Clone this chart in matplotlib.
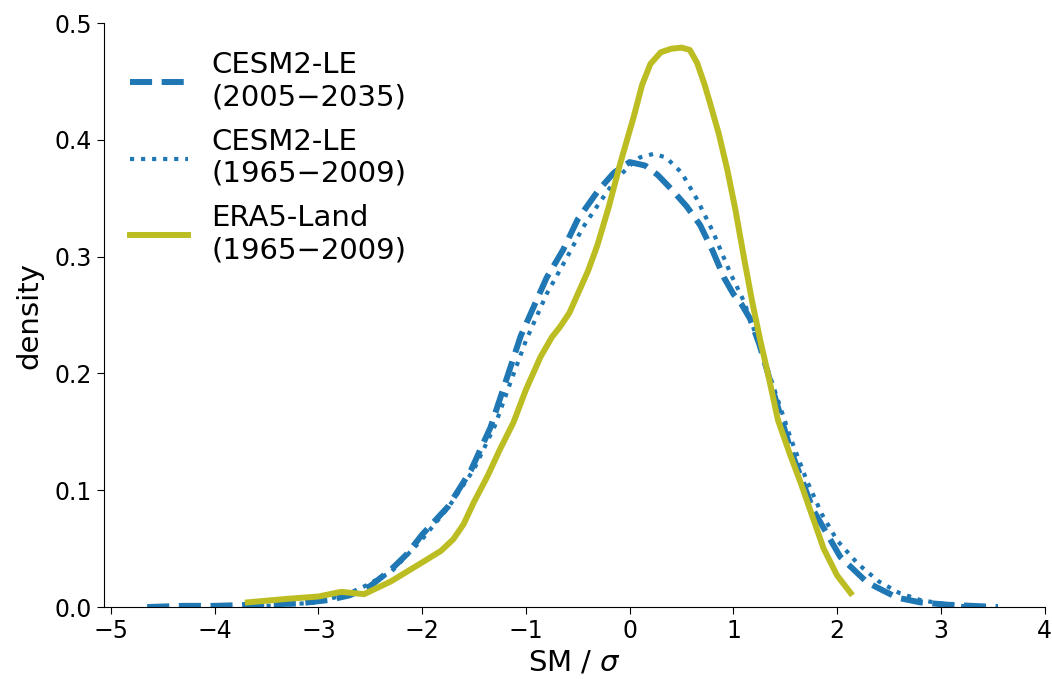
import matplotlib
matplotlib.use("Agg")
import matplotlib.pyplot as plt

# CESM2-LE 2005-2035 (dashed)
x_fut = [-4.65, -4.3, -4.0, -3.6, -3.2, -2.9, -2.7, -2.5, -2.3, -2.15, -2.0,
         -1.75, -1.53, -1.34, -1.18, -1.05, -0.92, -0.8, -0.64, -0.5, -0.3, -0.15,
         0.0, 0.15, 0.27, 0.4, 0.55, 0.68, 0.8, 0.91, 1.0, 1.08, 1.16, 1.25, 1.36,
         1.55, 1.77, 2.03, 2.29, 2.58, 2.8, 3.06, 3.3, 3.55]
y_fut = [0.000, 0.001, 0.001, 0.002, 0.003, 0.006, 0.010, 0.018, 0.032, 0.045, 0.062,
         0.086, 0.117, 0.154, 0.197, 0.232, 0.258, 0.282, 0.306, 0.332, 0.357, 0.372,
         0.381, 0.378, 0.370, 0.358, 0.343, 0.327, 0.305, 0.282, 0.268, 0.259, 0.247, 0.225, 0.192,
         0.135, 0.083, 0.043, 0.021, 0.008, 0.004, 0.002, 0.001, 0.000]

# CESM2-LE 1965-2009 (dotted)
x_hist = [-3.5, -3.0, -2.7, -2.55, -2.3, -2.0, -1.75, -1.5, -1.3, -1.15, -1.0,
          -0.8, -0.6, -0.45, -0.3, -0.15, 0.0, 0.1, 0.23, 0.35, 0.5, 0.65,
          0.8, 0.97, 1.1, 1.25, 1.4, 1.55, 1.7, 1.85, 2.0, 2.2, 2.4, 2.6,
          2.8, 3.0, 3.3]
y_hist = [0.001, 0.004, 0.012, 0.018, 0.030, 0.058, 0.085, 0.118, 0.155, 0.192, 0.228,
          0.268, 0.300, 0.325, 0.345, 0.364, 0.378, 0.385, 0.388, 0.385, 0.372, 0.349,
          0.322, 0.286, 0.262, 0.225, 0.185, 0.145, 0.110, 0.080, 0.057, 0.037, 0.022, 0.012,
          0.006, 0.003, 0.000]

# ERA5-Land 1965-2009 (solid)
x_era = [-3.68, -3.3, -3.0, -2.78, -2.56, -2.3, -2.04, -1.82, -1.7, -1.6, -1.5, -1.37,
         -1.25, -1.12, -1.0, -0.86, -0.75, -0.67, -0.58, -0.5, -0.4, -0.31, -0.2, -0.09,
         0.04, 0.12, 0.2, 0.3, 0.4, 0.5, 0.58, 0.65, 0.72, 0.78, 0.86, 0.94, 1.02, 1.1,
         1.18, 1.26, 1.34, 1.43, 1.54, 1.65, 1.76, 1.87, 2.0, 2.13]
y_era = [0.004, 0.007, 0.009, 0.013, 0.011, 0.022, 0.036, 0.048, 0.058, 0.071, 0.090, 0.112,
         0.135, 0.158, 0.186, 0.214, 0.231, 0.240, 0.252, 0.268, 0.288, 0.310, 0.343, 0.380,
         0.420, 0.447, 0.465, 0.475, 0.478, 0.479, 0.477, 0.466, 0.448, 0.430, 0.405, 0.375, 0.340, 0.300,
         0.262, 0.228, 0.197, 0.160, 0.132, 0.106, 0.078, 0.050, 0.027, 0.012]

labels = ["CESM2-LE\n(2005\u22122035)", "CESM2-LE\n(1965\u22122009)", "ERA5-Land\n(1965\u22122009)"]

fig = plt.figure(figsize=(10.52, 6.79), dpi=100)
ax = fig.add_axes([0.0985, 0.106, 0.8945, 0.860])

ax.plot(x_fut, y_fut, color="tab:blue", ls="--", lw=4.3, label=labels[0])
ax.plot(x_hist, y_hist, color="tab:blue", ls=":", lw=3.0, label=labels[1])
ax.plot(x_era, y_era, color="tab:olive", ls="-", lw=4.3, label=labels[2])

ax.set_xlim(-5.07, 4.0)
ax.set_ylim(0, 0.5)
ax.set_xticks(range(-5, 5))
ax.set_yticks([0.0, 0.1, 0.2, 0.3, 0.4, 0.5])
ax.tick_params(labelsize=17, length=5)
ax.set_xlabel("SM / $\\sigma$", fontsize=21)
ax.set_ylabel("density", fontsize=21, labelpad=8)
ax.spines["top"].set_visible(False)
ax.spines["right"].set_visible(False)

ax.legend(loc="upper left", frameon=False, fontsize=21, labelspacing=0.55,
          bbox_to_anchor=(0.0, 0.997))

fig.savefig("out.png", dpi=100)
